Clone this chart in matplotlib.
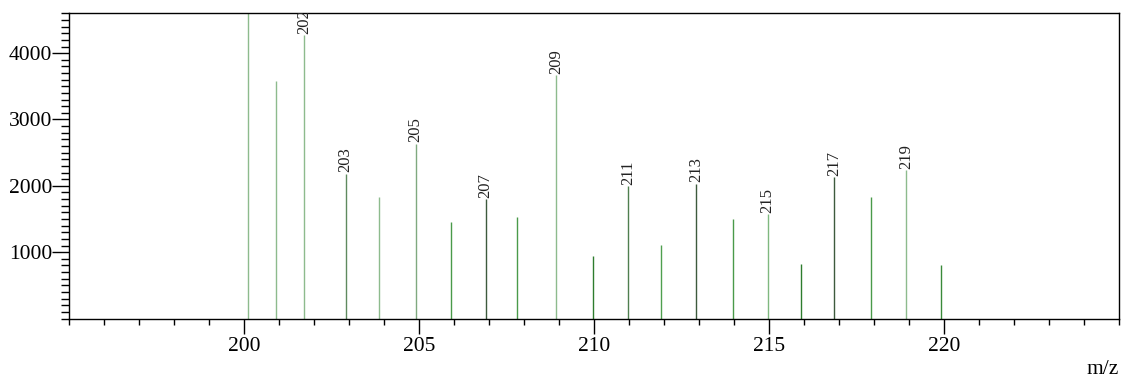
import matplotlib
matplotlib.use("Agg")
import matplotlib.pyplot as plt
from matplotlib.ticker import MultipleLocator, FixedLocator

# data
mz = [200.10, 200.91, 201.71, 202.90, 203.85, 204.90, 205.91, 206.90, 207.81,
      208.91, 209.96, 210.97, 211.91, 212.92, 213.96, 214.96, 215.90, 216.86,
      217.90, 218.91, 219.91]
intensity = [4800, 3586, 4274, 2183, 1833, 2635, 1451, 1803, 1532,
             3672, 940, 1993, 1101, 2033, 1502, 1577, 820, 2134,
             1833, 2233, 800]
labels = ["", "", "202", "203", "", "205", "", "207", "",
          "209", "", "211", "", "213", "", "215", "", "217",
          "", "219", ""]
y_ticks = [1000, 2000, 3000, 4000]
x_ticks = [200, 205, 210, 215, 220]

# styles
line_colors = ["#8dbb8d", "#8dbb8d", "#8dbb8d", "#5f8a5f", "#8dbb8d", "#7fa97f",
               "#4a9a4a", "#3d5a3d", "#4a9a4a", "#8dbb8d", "#2e7d2e", "#4f7f4f",
               "#4f9f4f", "#3d5a3d", "#4a9a4a", "#7fb87f", "#2e7d2e", "#3d5a3d",
               "#4a9a4a", "#8dbb8d", "#3a8a3a"]

plt.rcParams["font.family"] = ["Liberation Serif", "DejaVu Serif"]

fig = plt.figure(figsize=(11.24, 3.8), dpi=100)
ax = fig.add_axes([69/1124, 1 - 318.5/380, (1119-69)/1124, (318.5-12.7)/380])

ax.vlines(mz, 0, intensity, colors=line_colors, linewidth=1.0)

for x, y, lab in zip(mz, intensity, labels):
    if lab:
        ax.annotate(lab, (x, y), xytext=(0, 1), textcoords="offset points",
                    rotation=90, ha="center", va="bottom", fontsize=12,
                    color="#222222", clip_on=True, annotation_clip=True)

ax.set_xlim(195, 225)
ax.set_ylim(0, 4610)
ax.xaxis.set_major_locator(FixedLocator(x_ticks))
ax.xaxis.set_minor_locator(MultipleLocator(1))
ax.yaxis.set_major_locator(FixedLocator(y_ticks))
ax.yaxis.set_minor_locator(MultipleLocator(100))

ax.tick_params(axis="both", which="major", labelsize=15.5, direction="out",
               width=1, color="black")
ax.tick_params(axis="x", which="major", length=11, pad=2)
ax.tick_params(axis="x", which="minor", length=4, width=1)
ax.tick_params(axis="y", which="major", length=12, pad=0)
ax.tick_params(axis="y", which="minor", length=6, width=1)

for s in ax.spines.values():
    s.set_linewidth(1)
    s.set_color("black")

fig.text(1119/1124, 1 - 370/380, "m/z", ha="right", va="center", fontsize=15.5)

fig.savefig("out.png", dpi=100)
